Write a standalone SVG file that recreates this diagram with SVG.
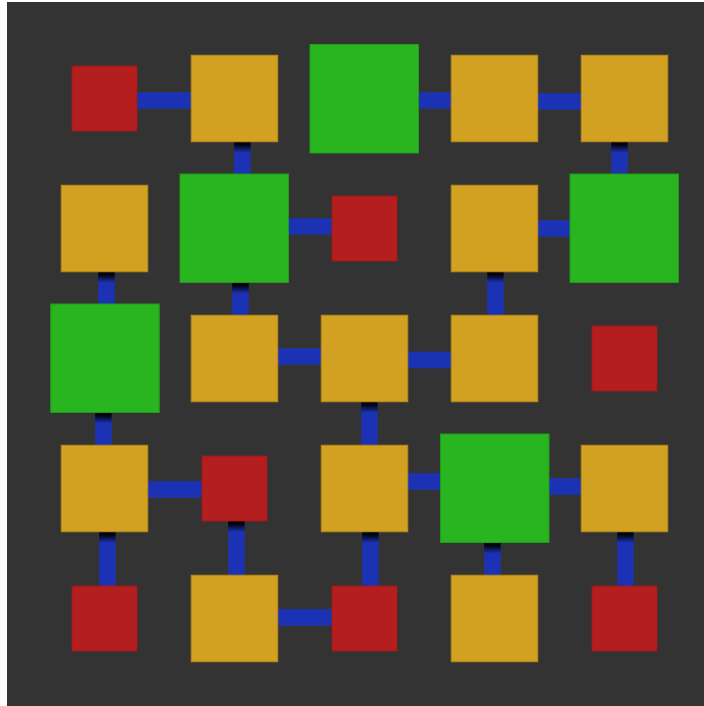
<svg xmlns="http://www.w3.org/2000/svg" width="704" height="706" viewBox="0 0 704 706">
<defs>
<style>
.bg{fill:#333333}
.o{fill:#D3A122;stroke:#B88A1A;stroke-width:1}
.r{fill:#B51E1F;stroke:#9A1A1A;stroke-width:1}
.g{fill:#29B51F;stroke:#22991A;stroke-width:1}
.c{fill:#1C32B5}
.s{fill:url(#shade)}
</style>
<linearGradient id="shade" x1="0" y1="0" x2="0" y2="1">
<stop offset="0" stop-color="#000" stop-opacity="1"/>
<stop offset="0.3" stop-color="#000" stop-opacity="0.9"/>
<stop offset="1" stop-color="#000" stop-opacity="0"/>
</linearGradient>
</defs>
<rect width="704" height="706" fill="#ffffff"/>
<rect class="bg" x="7" y="2" width="697" height="704"/>
<g id="connectors">
<rect class="c" x="136" y="92.2" width="56" height="16.5"/>
<rect class="c" x="417" y="92.2" width="35" height="16.5"/>
<rect class="c" x="537" y="93.2" width="45" height="16.5"/>
<rect class="c" x="288" y="218.2" width="45" height="16.5"/>
<rect class="c" x="537" y="220.2" width="34" height="16.5"/>
<rect class="c" x="277" y="348.2" width="45" height="16.5"/>
<rect class="c" x="407" y="351.7" width="45" height="16.5"/>
<rect class="c" x="147" y="481.2" width="56" height="16.5"/>
<rect class="c" x="407" y="473.2" width="34" height="16.5"/>
<rect class="c" x="548" y="478.2" width="34" height="16.5"/>
<rect class="c" x="277" y="609.2" width="56" height="16.5"/>
<rect class="c" x="234.2" y="141.75" width="16.5" height="33.5"/>
<rect class="c" x="611.2" y="141.75" width="16.5" height="33.5"/>
<rect class="c" x="98.2" y="271.75" width="16.5" height="33.5"/>
<rect class="c" x="232.2" y="282.5" width="16.5" height="33.5"/>
<rect class="c" x="487.2" y="271.75" width="16.5" height="44"/>
<rect class="c" x="95.2" y="412.5" width="16.5" height="33.5"/>
<rect class="c" x="361.2" y="401.75" width="16.5" height="44"/>
<rect class="c" x="99.2" y="531.75" width="16.5" height="55"/>
<rect class="c" x="228.2" y="521" width="16.5" height="55"/>
<rect class="c" x="362.2" y="531.75" width="16.5" height="55"/>
<rect class="c" x="484.2" y="542.5" width="16.5" height="33.5"/>
<rect class="c" x="617.2" y="531.75" width="16.5" height="55"/>
<rect class="s" x="234.2" y="141.75" width="16.5" height="11"/>
<rect class="s" x="611.2" y="141.75" width="16.5" height="11"/>
<rect class="s" x="98.2" y="271.75" width="16.5" height="11"/>
<rect class="s" x="232.2" y="282.5" width="16.5" height="11"/>
<rect class="s" x="487.2" y="271.75" width="16.5" height="11"/>
<rect class="s" x="95.2" y="412.5" width="16.5" height="11"/>
<rect class="s" x="361.2" y="401.75" width="16.5" height="11"/>
<rect class="s" x="99.2" y="531.75" width="16.5" height="11"/>
<rect class="s" x="228.2" y="521" width="16.5" height="11"/>
<rect class="s" x="362.2" y="531.75" width="16.5" height="11"/>
<rect class="s" x="484.2" y="542.5" width="16.5" height="11"/>
<rect class="s" x="617.2" y="531.75" width="16.5" height="11"/>
</g>
<g id="n00"><rect class="r" x="72" y="66" width="65" height="65"/></g>
<g id="n01"><rect class="o" x="191.25" y="55.25" width="86.5" height="86.5"/></g>
<g id="n02"><rect class="g" x="310" y="44.5" width="108.5" height="108.5"/></g>
<g id="n03"><rect class="o" x="451.25" y="55.25" width="86.5" height="86.5"/></g>
<g id="n04"><rect class="o" x="581.25" y="55.25" width="86.5" height="86.5"/></g>
<g id="n10"><rect class="o" x="61.25" y="185.25" width="86.5" height="86.5"/></g>
<g id="n11"><rect class="g" x="180" y="174" width="108.5" height="108.5"/></g>
<g id="n12"><rect class="r" x="332" y="196" width="65" height="65"/></g>
<g id="n13"><rect class="o" x="451.25" y="185.25" width="86.5" height="86.5"/></g>
<g id="n14"><rect class="g" x="570" y="174" width="108.5" height="108.5"/></g>
<g id="n20"><rect class="g" x="50.75" y="304" width="108.5" height="108.5"/></g>
<g id="n21"><rect class="o" x="191.25" y="315.25" width="86.5" height="86.5"/></g>
<g id="n22"><rect class="o" x="321.25" y="315.25" width="86.5" height="86.5"/></g>
<g id="n23"><rect class="o" x="451.25" y="315.25" width="86.5" height="86.5"/></g>
<g id="n24"><rect class="r" x="592" y="326" width="65" height="65"/></g>
<g id="n30"><rect class="o" x="61.25" y="445.25" width="86.5" height="86.5"/></g>
<g id="n31"><rect class="r" x="202" y="456" width="65" height="65"/></g>
<g id="n32"><rect class="o" x="321.25" y="445.25" width="86.5" height="86.5"/></g>
<g id="n33"><rect class="g" x="440.5" y="434" width="108.5" height="108.5"/></g>
<g id="n34"><rect class="o" x="581.25" y="445.25" width="86.5" height="86.5"/></g>
<g id="n40"><rect class="r" x="72" y="586" width="65" height="65"/></g>
<g id="n41"><rect class="o" x="191.25" y="575.25" width="86.5" height="86.5"/></g>
<g id="n42"><rect class="r" x="332" y="586" width="65" height="65"/></g>
<g id="n43"><rect class="o" x="451.25" y="575.25" width="86.5" height="86.5"/></g>
<g id="n44"><rect class="r" x="592" y="586" width="65" height="65"/></g>
</svg>
